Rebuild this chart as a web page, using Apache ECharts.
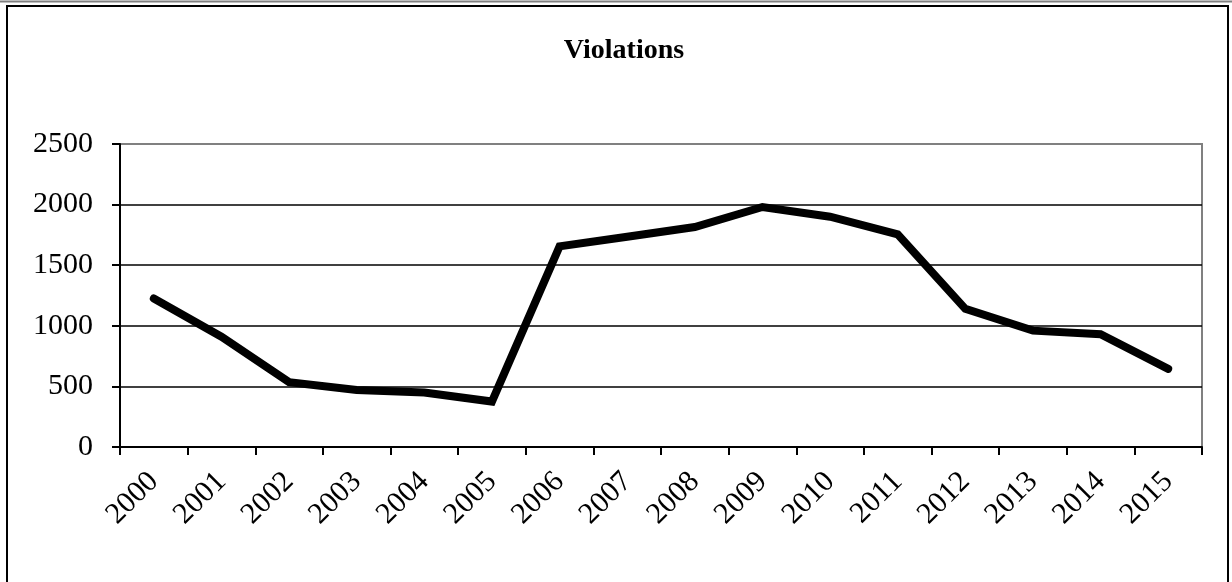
<!DOCTYPE html>
<html>
<head>
<meta charset="utf-8">
<script src="https://cdn.jsdelivr.net/npm/echarts@6/dist/echarts.min.js"></script>
<style>
  html, body { margin: 0; padding: 0; background: #fff; }
  #chart { width: 1232px; height: 582px; }
</style>
</head>
<body>
<div id="chart"></div>
<script>
var years = ['2000', '2001', '2002', '2003', '2004', '2005', '2006', '2007',
  '2008', '2009', '2010', '2011', '2012', '2013', '2014', '2015'];
var violations = [1225, 910, 535, 470, 450, 375, 1655, 1735,
  1815, 1980, 1900, 1755, 1140, 960, 930, 645];
var yTicks = [0, 500, 1000, 1500, 2000, 2500];

var serif = "'Liberation Serif', 'Times New Roman', serif";

var chart = echarts.init(document.getElementById('chart'));

var option = {
  backgroundColor: '#fff',
  animation: false,
  title: {
    text: 'Violations',
    left: 624,
    textAlign: 'center',
    top: 37,
    padding: 0,
    textStyle: {
      fontFamily: serif,
      fontWeight: 'bold',
      fontSize: 28,
      color: '#000'
    }
  },
  graphic: [
    {
      type: 'rect',
      shape: { x: 7, y: 6, width: 1221, height: 620 },
      style: { fill: 'none', stroke: '#000', lineWidth: 2 }
    },
    {
      type: 'line',
      shape: { x1: 0, y1: 1.5, x2: 1232, y2: 1.5 },
      style: { stroke: '#808080', lineWidth: 2 }
    }
  ],
  grid: {
    left: 120,
    top: 144,
    right: 30,
    bottom: 135,
    show: true,
    borderColor: '#808080',
    borderWidth: 2
  },
  xAxis: {
    type: 'category',
    data: years,
    boundaryGap: true,
    axisLine: { lineStyle: { color: '#000', width: 2 } },
    axisTick: { show: true, alignWithLabel: false, length: 8, lineStyle: { color: '#000', width: 2 } },
    axisLabel: {
      interval: 0,
      rotate: 45,
      margin: 30,
      fontFamily: serif,
      fontSize: 30,
      color: '#000'
    }
  },
  yAxis: {
    type: 'value',
    min: yTicks[0],
    max: yTicks[yTicks.length - 1],
    interval: 500,
    axisLine: { show: true, lineStyle: { color: '#000', width: 2 } },
    axisTick: { show: true, length: 8, lineStyle: { color: '#000', width: 2 } },
    axisLabel: {
      margin: 27,
      fontFamily: serif,
      fontSize: 30,
      color: '#000',
      formatter: function (v) { return String(v); }
    },
    splitLine: {
      show: true,
      showMaxLine: false,
      lineStyle: { color: '#000', width: 1.5 }
    }
  },
  series: [
    {
      type: 'line',
      data: violations,
      symbol: 'none',
      lineStyle: { color: '#000', width: 8, cap: 'round', join: 'miter' }
    }
  ]
};

chart.setOption(option);
</script>
</body>
</html>
